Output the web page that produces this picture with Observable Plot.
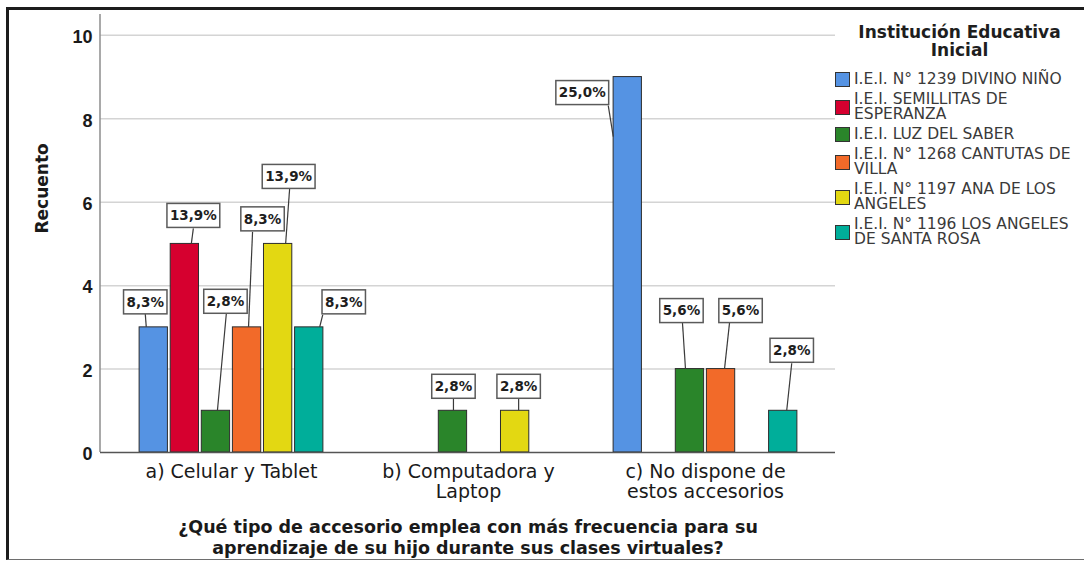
<!DOCTYPE html>
<html>
<head>
<meta charset="utf-8">
<script src="https://cdn.jsdelivr.net/npm/d3@7"></script>
<script src="https://cdn.jsdelivr.net/npm/@observablehq/plot@0.6"></script>
<style>
  body { margin: 0; background: #fff; }
  #wrap { position: relative; width: 1084px; height: 561px; overflow: hidden; background: #fff; }
  #chart { position: absolute; left: 0; top: 0; }
  #frame { position: absolute; left: 6px; top: 7px; width: 1100px; height: 549px;
           border-top: 3px solid #1c1c1c; border-left: 3px solid #1c1c1c; border-bottom: 1px solid #6e6e6e;
           pointer-events: none; }
  #legend { position: absolute; left: 835px; top: 23px; width: 249px; font-family: "DejaVu Sans", sans-serif; }
  #legend .ltitle { text-align: center; font-weight: bold; font-size: 17px; line-height: 18px; color: #1e1e1e; }
  #items { margin-top: 13px; display: flex; flex-direction: column; gap: 5px; }
  .item { display: flex; align-items: center; }
  .sw { width: 15px; height: 15px; box-sizing: border-box; border: 1px solid #333; flex: none; }
  .lt { margin-left: 4px; font-size: 15.5px; line-height: 15px; color: #3a3a3a; width: 228px; }
</style>
</head>
<body>
<div id="wrap">
  <div id="chart"></div>
  <div id="legend">
    <div class="ltitle">Institución Educativa<br>Inicial</div>
    <div id="items"></div>
  </div>
  <div id="frame"></div>
</div>
<script>
// ---------- data ----------
const categories = ["a) Celular y Tablet", "b) Computadora y Laptop", "c) No dispone de estos accesorios"];
const categoryLines = ["a) Celular y Tablet", "b) Computadora y\nLaptop", "c) No dispone de\nestos accesorios"];
const institutions = [
  "I.E.I. N° 1239 DIVINO NIÑO",
  "I.E.I. SEMILLITAS DE ESPERANZA",
  "I.E.I. LUZ DEL SABER",
  "I.E.I. N° 1268 CANTUTAS DE VILLA",
  "I.E.I. N° 1197 ANA DE LOS ANGELES",
  "I.E.I. N° 1196 LOS ANGELES DE SANTA ROSA"
];
const colors = ["#5593e3", "#d6002f", "#2a852a", "#f26a29", "#e3d812", "#00ae9a"];
const countsCelular = [3, 5, 1, 3, 5, 3];
const countsComputadora = [0, 0, 1, 0, 1, 0];
const countsNoDispone = [9, 0, 2, 2, 0, 1];
const yTicks = [0, 2, 4, 6, 8, 10];
const yTitle = "Recuento";
const xTitle = "¿Qué tipo de accesorio emplea con más frecuencia para su\naprendizaje de su hijo durante sus clases virtuales?";

// label box layout (pixel offsets relative to the bar-top centre): [cat, inst, boxDx, boxDy, lineX1, lineY1, lineX2, lineY2]
const labelLayout = [
  [0, 0, -8, -25, -8, -13, -7, 0],
  [0, 1, 9, -28, 9, -15, 7, 0],
  [0, 2, 10, -109, 11, -98, 2, 0],
  [0, 3, 16, -108, 6, -95, 2, 0],
  [0, 4, 11, -67, 12, -55, 8, 0],
  [0, 5, 35, -25, 14, -12, 11, 0],
  [1, 2, 1, -24, 1, -12, 1, 0],
  [1, 4, 4, -24, 4, -12, 4, 0],
  [2, 0, -45, 16, -19, 29, -14, 60],
  [2, 2, -8, -58, -7, -46, -4, 0],
  [2, 3, 20, -58, 9, -46, 4, 0],
  [2, 5, 9, -60, 9, -47, 4, 0]
];

// ---------- table ----------
const countsByCat = [countsCelular, countsComputadora, countsNoDispone];
const total = d3.sum(countsByCat.flat());
const rows = [];
countsByCat.forEach((arr, c) => arr.forEach((v, i) => {
  if (v > 0) rows.push({c, i, cat: categories[c], inst: institutions[i], count: v,
    pct: (v / total * 100).toFixed(1).replace(".", ",") + "%"});
}));

// ---------- layout ----------
const width = 1084, height = 561;
const marginLeft = 100, marginRight = 249, marginTop = 14, marginBottom = 109;
const padInner = 0.2, padOuter = 0.15, slotPad = 0.1;
const innerW = width - marginLeft - marginRight;
const groupStep = innerW / (categories.length - padInner + 2 * padOuter);
const groupBand = groupStep * (1 - padInner);
const slotStep = groupBand / (institutions.length - slotPad + 2 * slotPad);
const barW = slotStep * (1 - slotPad);
const inset = (groupBand - barW) / 2;
const slotOffset = i => (i - (institutions.length - 1) / 2) * slotStep;

const measure = document.createElement("canvas").getContext("2d");
measure.font = "bold 13.5px 'DejaVu Sans'";

function axisLine(index, scales, values, dims) {
  const g = d3.create("svg:g");
  g.append("line")
    .attr("x1", dims.marginLeft).attr("x2", dims.marginLeft)
    .attr("y1", dims.marginTop).attr("y2", dims.height - dims.marginBottom)
    .attr("stroke", "#8c8c8c").attr("stroke-width", 1.5);
  return g.node();
}

function labelBoxes(index, scales) {
  const g = d3.create("svg:g");
  const bw = scales.x.bandwidth ? scales.x.bandwidth() : groupBand;
  for (const r of rows) {
    const lay = labelLayout.find(l => l[0] === r.c && l[1] === r.i);
    if (!lay) continue;
    const cx = scales.x(r.cat) + bw / 2 + slotOffset(r.i);
    const cy = scales.y(r.count);
    const [, , bdx, bdy, l1x, l1y, l2x, l2y] = lay;
    g.append("line")
      .attr("x1", cx + l1x).attr("y1", cy + l1y)
      .attr("x2", cx + l2x).attr("y2", cy + l2y)
      .attr("stroke", "#3a3a3a").attr("stroke-width", 1.2);
    const tw = measure.measureText(r.pct).width;
    const bwid = tw + 6, bh = 24;
    g.append("rect")
      .attr("x", cx + bdx - bwid / 2).attr("y", cy + bdy - bh / 2)
      .attr("width", bwid).attr("height", bh)
      .attr("fill", "#fff").attr("stroke", "#5a5a5a").attr("stroke-width", 1.5);
    g.append("text")
      .attr("x", cx + bdx).attr("y", cy + bdy)
      .attr("dy", "0.36em")
      .attr("text-anchor", "middle")
      .attr("font-family", "DejaVu Sans").attr("font-weight", "bold").attr("font-size", 13.5)
      .attr("fill", "#1e1e1e")
      .text(r.pct);
  }
  return g.node();
}

const chart = Plot.plot({
  width, height, marginLeft, marginRight, marginTop, marginBottom,
  style: {background: "transparent", fontFamily: "DejaVu Sans", color: "#1a1a1a"},
  x: {type: "band", domain: categories, paddingInner: padInner, paddingOuter: padOuter, axis: null},
  y: {domain: [0, 10.5], axis: null},
  marks: [
    Plot.ruleY(yTicks.filter(t => t > 0), {stroke: "#d4d4d4", strokeWidth: 1.5}),
    axisLine,
    ...institutions.map((inst, i) => Plot.barY(rows.filter(r => r.i === i), {
      x: "cat", y: "count", fill: colors[i], stroke: "#2d2d2d", strokeWidth: 1,
      insetLeft: inset, insetRight: inset, dx: slotOffset(i)
    })),
    Plot.ruleY([0], {stroke: "#555", strokeWidth: 1.5}),
    Plot.text(yTicks, {y: d => d, frameAnchor: "left", textAnchor: "end", dx: -8, dy: 2,
      text: d => String(d), fontFamily: "Liberation Sans", fontWeight: "bold", fontSize: 18, fill: "#1a1a1a"}),
    Plot.text(categories, {x: d => d, frameAnchor: "bottom", lineAnchor: "top", dy: 11,
      text: (d, i) => categoryLines[i], fontSize: 19, lineHeight: 1.05, fill: "#1a1a1a"}),
    Plot.text([xTitle], {frameAnchor: "bottom", lineAnchor: "top", dy: 66,
      fontWeight: "bold", fontSize: 17.5, lineHeight: 1.2, fill: "#1a1a1a"}),
    Plot.text([yTitle], {frameAnchor: "left", dx: -58, rotate: -90,
      fontWeight: "bold", fontSize: 17, fill: "#1a1a1a"}),
    labelBoxes
  ]
});
document.getElementById("chart").appendChild(chart);

// ---------- legend ----------
const items = d3.select("#items");
institutions.forEach((name, i) => {
  const it = items.append("div").attr("class", "item");
  it.append("div").attr("class", "sw").style("background", colors[i]);
  it.append("div").attr("class", "lt").text(name);
});
</script>
</body>
</html>
